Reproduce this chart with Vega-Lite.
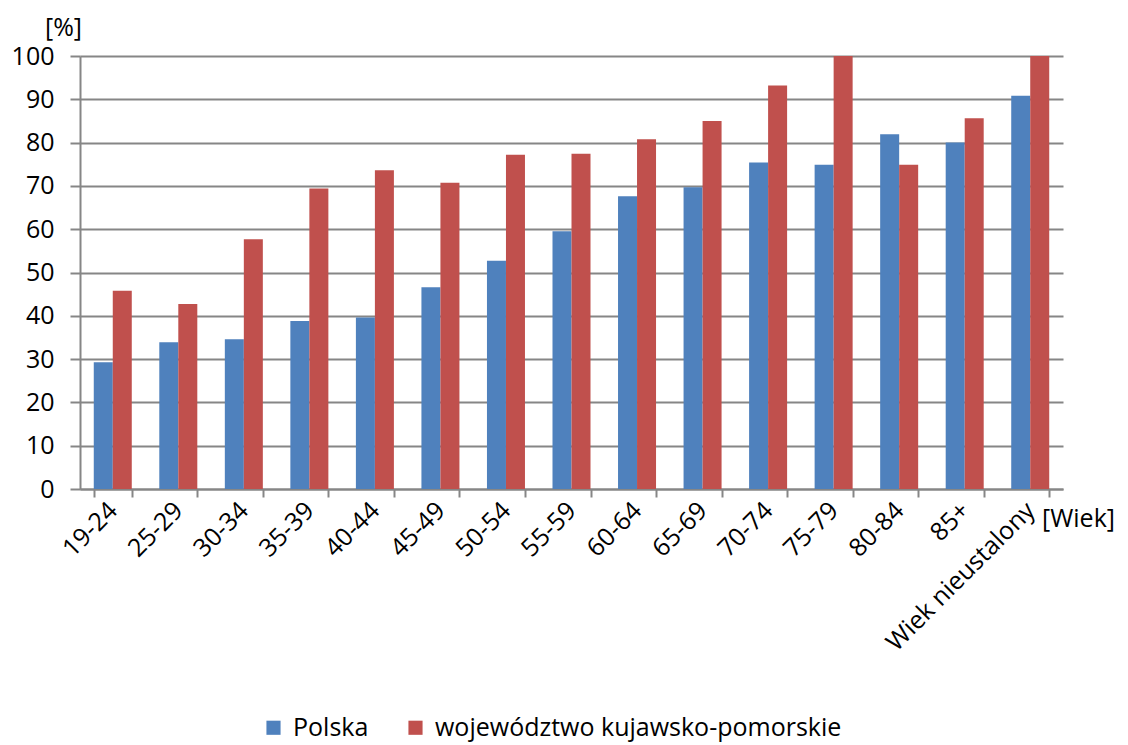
{
  "$schema": "https://vega.github.io/schema/vega-lite/v6.json",
  "width": 983,
  "height": 433,
  "autosize": {"type": "none"},
  "padding": {"left": 80, "top": 56, "right": 65, "bottom": 256},
  "background": "white",
  "config": {
    "font": "Open Sans",
    "view": {"stroke": null},
    "axis": {"labelColor": "#000000", "titleColor": "#000000", "titleFontWeight": "normal"}
  },
  "data": {
    "values": [
      {"wiek": "19-24", "obszar": "Polska", "v": 29.3},
      {"wiek": "19-24", "obszar": "województwo kujawsko-pomorskie", "v": 45.8},
      {"wiek": "25-29", "obszar": "Polska", "v": 33.9},
      {"wiek": "25-29", "obszar": "województwo kujawsko-pomorskie", "v": 42.7},
      {"wiek": "30-34", "obszar": "Polska", "v": 34.6},
      {"wiek": "30-34", "obszar": "województwo kujawsko-pomorskie", "v": 57.7},
      {"wiek": "35-39", "obszar": "Polska", "v": 38.8},
      {"wiek": "35-39", "obszar": "województwo kujawsko-pomorskie", "v": 69.4},
      {"wiek": "40-44", "obszar": "Polska", "v": 39.6},
      {"wiek": "40-44", "obszar": "województwo kujawsko-pomorskie", "v": 73.6},
      {"wiek": "45-49", "obszar": "Polska", "v": 46.6},
      {"wiek": "45-49", "obszar": "województwo kujawsko-pomorskie", "v": 70.7},
      {"wiek": "50-54", "obszar": "Polska", "v": 52.7},
      {"wiek": "50-54", "obszar": "województwo kujawsko-pomorskie", "v": 77.2},
      {"wiek": "55-59", "obszar": "Polska", "v": 59.5},
      {"wiek": "55-59", "obszar": "województwo kujawsko-pomorskie", "v": 77.4},
      {"wiek": "60-64", "obszar": "Polska", "v": 67.6},
      {"wiek": "60-64", "obszar": "województwo kujawsko-pomorskie", "v": 80.8},
      {"wiek": "65-69", "obszar": "Polska", "v": 69.7},
      {"wiek": "65-69", "obszar": "województwo kujawsko-pomorskie", "v": 85.0},
      {"wiek": "70-74", "obszar": "Polska", "v": 75.4},
      {"wiek": "70-74", "obszar": "województwo kujawsko-pomorskie", "v": 93.2},
      {"wiek": "75-79", "obszar": "Polska", "v": 74.9},
      {"wiek": "75-79", "obszar": "województwo kujawsko-pomorskie", "v": 100},
      {"wiek": "80-84", "obszar": "Polska", "v": 81.9},
      {"wiek": "80-84", "obszar": "województwo kujawsko-pomorskie", "v": 74.9},
      {"wiek": "85+", "obszar": "Polska", "v": 80.0},
      {"wiek": "85+", "obszar": "województwo kujawsko-pomorskie", "v": 85.6},
      {"wiek": "Wiek nieustalony", "obszar": "Polska", "v": 90.8},
      {"wiek": "Wiek nieustalony", "obszar": "województwo kujawsko-pomorskie", "v": 100}
    ]
  },
  "mark": {"type": "bar"},
  "encoding": {
    "x": {
      "field": "wiek",
      "type": "nominal",
      "sort": null,
      "scale": {"paddingInner": 0.42, "paddingOuter": 0.21},
      "axis": {
        "title": "[Wiek]",
        "titleFontSize": 25,
        "titleX": 998,
        "titleY": 29,
        "titleAlign": "center",
        "titleBaseline": "middle",
        "labelAngle": -45,
        "labelAlign": "right",
        "labelBaseline": "middle",
        "labelFontSize": 25,
        "labelLimit": 0,
        "labelPadding": 9,
        "tickBand": "extent",
        "tickSize": 8,
        "tickColor": "#868686",
        "tickWidth": 2,
        "domainColor": "#868686",
        "domainWidth": 2,
        "grid": false
      }
    },
    "xOffset": {"field": "obszar", "type": "nominal", "sort": ["Polska", "województwo kujawsko-pomorskie"]},
    "y": {
      "field": "v",
      "type": "quantitative",
      "scale": {"domain": [0, 100], "nice": false},
      "axis": {
        "title": "[%]",
        "titleFontSize": 25,
        "titleAngle": 0,
        "titleX": -17,
        "titleY": -29,
        "titleAlign": "center",
        "titleBaseline": "middle",
        "values": [0, 10, 20, 30, 40, 50, 60, 70, 80, 90, 100],
        "labelFontSize": 25,
        "labelPadding": 16,
        "tickSize": 10,
        "tickColor": "#868686",
        "tickWidth": 2,
        "domainColor": "#868686",
        "domainWidth": 2,
        "grid": true,
        "gridColor": "#868686",
        "gridWidth": 2
      }
    },
    "color": {
      "field": "obszar",
      "type": "nominal",
      "sort": ["Polska", "województwo kujawsko-pomorskie"],
      "scale": {"domain": ["Polska", "województwo kujawsko-pomorskie"], "range": ["#4F81BD", "#C0504D"]},
      "legend": {
        "title": null,
        "orient": "none",
        "direction": "horizontal",
        "legendX": 181,
        "legendY": 659,
        "symbolType": "square",
        "symbolSize": 200,
        "symbolStrokeWidth": 0,
        "labelFontSize": 25,
        "labelLimit": 0,
        "labelColor": "#000000",
        "columnPadding": 34,
        "labelOffset": 7
      }
    }
  }
}
